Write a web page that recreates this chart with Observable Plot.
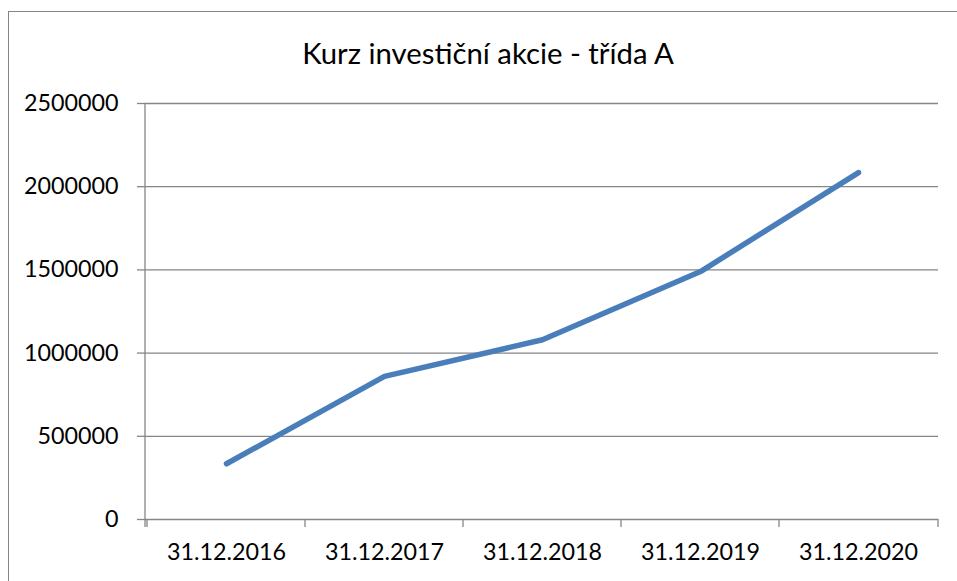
<!DOCTYPE html>
<html>
<head>
<meta charset="utf-8">
<script src="https://cdn.jsdelivr.net/npm/d3@7"></script>
<script src="https://cdn.jsdelivr.net/npm/@observablehq/plot@0.6"></script>
<style>
  html, body { margin: 0; padding: 0; background: #fff; }
  #wrap { position: relative; width: 957px; height: 581px; overflow: hidden; font-family: Lato, "Open Sans", sans-serif; }
  #frame { position: absolute; left: 8px; top: 11px; width: 1200px; height: 800px; border: 1px solid #868686; box-sizing: border-box; }
  #title { position: absolute; left: 0; width: 976px; top: 38px; text-align: center; font-size: 29.3px; color: #000; line-height: 1; }
  #chart { position: absolute; left: 0; top: 0; }
</style>
</head>
<body>
<div id="wrap">
  <div id="frame"></div>
  <div id="title">Kurz investiční akcie - třída A</div>
  <div id="chart"></div>
</div>
<script>
const categories = ["31.12.2016", "31.12.2017", "31.12.2018", "31.12.2019", "31.12.2020"];
const values = [335000, 860000, 1080000, 1490000, 2085000];
const yTicks = [0, 500000, 1000000, 1500000, 2000000, 2500000];

const data = categories.map((c, i) => ({ date: c, value: values[i] }));

const gridColor = "#868686";
const chart = Plot.plot({
  width: 957,
  height: 581,
  marginLeft: 145,
  marginRight: 19,
  marginTop: 103,
  marginBottom: 62,
  style: { fontFamily: "Lato, 'Open Sans', sans-serif", fontSize: "23.3px", color: "#000", background: "transparent" },
  x: { type: "band", domain: categories, padding: 0, label: null },
  y: { domain: [0, 2500000], ticks: yTicks, label: null },
  marks: [
    Plot.gridY(yTicks, { stroke: gridColor, strokeOpacity: 1, strokeWidth: 1.3 }),
    Plot.axisY(yTicks, { tickSize: 8, tickPadding: 19, stroke: gridColor, strokeWidth: 1.3, tickFormat: d => String(d), fill: "#000", label: null }),
    Plot.axisX({ tickSize: 0, tickPadding: 24, fill: "#000", label: null }),
    Plot.line(data, { x: "date", y: "value", stroke: "#4a7ebb", strokeWidth: 5.5, strokeLinecap: "round", strokeLinejoin: "round" })
  ]
});

// Excel-style axis: vertical y axis line and x tick marks at category boundaries
const xs = chart.scale("x");
const ys = chart.scale("y");
const svg = d3.select(chart);
const [y0, y1] = ys.range; // bottom, top
const g = svg.insert("g", ":first-child").attr("stroke", gridColor).attr("stroke-width", 1.3);
const left = xs.range[0];
g.append("line").attr("x1", left).attr("x2", left).attr("y1", y1).attr("y2", y0 + 8);
const edges = xs.domain.map(d => xs.apply(d)).concat([xs.range[1]]);
edges.forEach(x => {
  g.append("line").attr("x1", x).attr("x2", x).attr("y1", y0).attr("y2", y0 + 8);
});

document.getElementById("chart").appendChild(chart);
</script>
</body>
</html>
